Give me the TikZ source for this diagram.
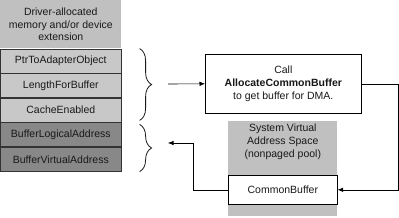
\documentclass[tikz,border=0pt]{standalone}
\usepackage{fontspec}
\setmainfont{Liberation Sans}
\usetikzlibrary{arrows.meta, positioning, calc, decorations.pathreplacing}
\definecolor{hdrgray}{RGB}{192,192,192}
\definecolor{rowlight}{RGB}{200,200,200}
\definecolor{rowdark}{RGB}{136,136,136}
\definecolor{poolgray}{RGB}{192,192,192}

\begin{document}
\begin{tikzpicture}[x=1pt, y=-1pt, line width=0.6pt,
  txt/.style={font=\fontsize{10.5}{12.8}\selectfont, text=black!90},
  hdrbox/.style={txt, fill=hdrgray, align=center, minimum width=121pt, minimum height=48pt, inner sep=0pt, anchor=north west},
  field/.style={txt, draw=black!80, minimum width=121pt, minimum height=24pt, inner sep=0pt},
  light/.style={field, fill=rowlight},
  dark/.style={field, fill=rowdark},
  whitebox/.style={txt, draw=black, fill=white, align=center, inner sep=0pt},
  pool/.style={fill=poolgray, minimum width=109pt, minimum height=95pt, inner sep=0pt, anchor=north west},
  curly/.style={decorate, decoration={brace, amplitude=12pt}, black!90, line width=0.8pt},
  arrow/.style={-{Latex[length=5.5pt, width=4.5pt]}, black}
]
\useasboundingbox (0,0) rectangle (399,217);

% driver-allocated memory
\node[hdrbox] (hdr) at (0,0) {Driver-allocated\\memory and/or device\\extension};
\node[light, below=0pt of hdr] (ptr) {PtrToAdapterObject};
\node[light, below=0pt of ptr] (len) {LengthForBuffer};
\node[light, below=0pt of len] (cache) {CacheEnabled};
\node[dark, below=0pt of cache] (logaddr) {BufferLogicalAddress};
\node[dark, below=0pt of logaddr] (virtaddr) {BufferVirtualAddress};

% braces
\draw[curly] ($(ptr.north east)+(18,0)$) -- ($(cache.south east)+(18,-2)$);
\draw[curly] ($(logaddr.north east)+(18,2)$) -- ($(virtaddr.south east)+(18,0)$);
\coordinate (b1) at (168,84);
\coordinate (b2) at (168,143);

% call box
\node[whitebox, minimum width=156pt, minimum height=59pt, anchor=north west] (call) at (205,54)
  {Call\\\textbf{AllocateCommonBuffer}\\to get buffer for DMA.};

% nonpaged pool
\node[pool] (pool) at (228,121) {};
\node[txt, align=center, below=3pt of pool.north, inner sep=0pt] (pooltxt) {System Virtual\\Address Space\\(nonpaged pool)};
\node[whitebox, minimum width=109pt, minimum height=29pt, anchor=north west] (cbuf) at (228,175) {CommonBuffer};

\draw[arrow] (b1) -- (call.west);
\draw[arrow] (call.east) -- ++(36.5,0) |- (cbuf.east);
\draw[arrow] (cbuf.west) -- ++(-35,0) |- (b2);
\end{tikzpicture}
\end{document}
